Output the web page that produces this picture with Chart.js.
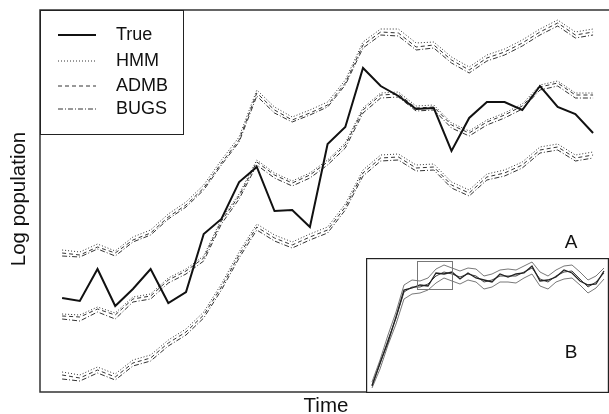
<!DOCTYPE html>
<html>
<head>
<meta charset="utf-8">
<script src="https://cdn.jsdelivr.net/npm/chart.js@4.4.0/dist/chart.umd.min.js"></script>
<style>
  body { margin: 0; background: #fff; overflow: hidden; }
  #main { position: absolute; left: 0; top: 0; }
  #inset { position: absolute; left: 366px; top: 258px; background: #fff; }
</style>
</head>
<body>
<canvas id="main" width="609" height="414"></canvas>
<canvas id="inset" width="243" height="135"></canvas>
<script>
// ---- panel A data (time steps 0..30) ----
const timeSteps = [0, 1, 2, 3, 4, 5, 6, 7, 8, 9, 10, 11, 12, 13, 14, 15, 16, 17, 18, 19, 20, 21, 22, 23, 24, 25, 26, 27, 28, 29, 30];

const trueLogPop = [9.4, 9.1, 12.3, 8.6, 10.3, 12.3, 8.9, 10.0, 15.8, 17.3, 21.0, 22.5, 18.1, 18.2, 16.5, 24.8, 26.5, 32.4, 30.6, 29.6, 28.3, 28.4, 24.1, 27.4, 29.0, 29.0, 28.2, 30.6, 28.5, 27.8, 25.9];

const hmmMid = [7.8, 7.7, 8.5, 7.9, 9.5, 9.8, 11.4, 12.3, 13.6, 17.3, 19.8, 23.2, 21.9, 21.1, 21.9, 23.2, 24.9, 28.4, 29.9, 30.0, 28.6, 28.7, 26.9, 26.1, 27.2, 27.9, 28.8, 30.7, 31.1, 29.9, 29.9];
const hmmUpper = [14.2, 14.0, 14.8, 14.1, 15.5, 16.2, 17.8, 19.0, 20.7, 23.2, 25.5, 30.2, 28.5, 27.5, 28.2, 29.0, 31.2, 35.0, 36.3, 36.3, 34.9, 35.0, 33.5, 32.5, 33.7, 34.3, 35.2, 36.3, 37.2, 36.0, 36.3];
const hmmLower = [2.0, 1.7, 2.5, 1.8, 3.2, 3.7, 5.2, 6.3, 8.0, 10.8, 14.0, 16.8, 15.7, 15.0, 15.8, 16.5, 18.8, 22.2, 23.7, 23.8, 22.7, 22.8, 21.0, 20.2, 21.8, 22.2, 23.0, 24.5, 24.8, 23.7, 24.0];

const admbMid = [7.6, 7.5, 8.3, 7.7, 9.3, 9.6, 11.2, 12.1, 13.4, 17.1, 19.6, 23.0, 21.7, 20.9, 21.7, 23.0, 24.7, 28.2, 29.7, 29.8, 28.4, 28.5, 26.7, 25.9, 27.0, 27.7, 28.6, 30.5, 30.9, 29.7, 29.7];
const admbUpper = [13.9, 13.7, 14.5, 13.9, 15.2, 15.9, 17.5, 18.7, 20.4, 22.9, 25.2, 29.9, 28.2, 27.2, 27.9, 28.7, 30.9, 34.7, 36.0, 35.9, 34.5, 34.7, 33.2, 32.2, 33.4, 34.0, 34.9, 36.0, 36.9, 35.7, 36.0];
const admbLower = [1.7, 1.4, 2.2, 1.5, 2.9, 3.4, 4.9, 6.0, 7.7, 10.5, 13.7, 16.5, 15.4, 14.7, 15.5, 16.2, 18.5, 21.9, 23.4, 23.5, 22.4, 22.5, 20.7, 19.9, 21.5, 21.9, 22.7, 24.2, 24.5, 23.4, 23.7];

const bugsMid = [7.3, 7.1, 8.0, 7.3, 9.0, 9.3, 10.9, 11.8, 13.1, 16.8, 19.3, 22.7, 21.4, 20.6, 21.4, 22.7, 24.4, 27.9, 29.4, 29.5, 28.1, 28.2, 26.4, 25.6, 26.7, 27.4, 28.3, 30.2, 30.6, 29.4, 29.4];
const bugsUpper = [13.6, 13.5, 14.3, 13.6, 15.0, 15.7, 17.3, 18.5, 20.2, 22.7, 25.0, 29.6, 27.9, 27.0, 27.7, 28.5, 30.7, 34.4, 35.7, 35.6, 34.2, 34.4, 32.9, 31.9, 33.1, 33.7, 34.6, 35.7, 36.6, 35.4, 35.7];
const bugsLower = [1.3, 1.1, 1.9, 1.2, 2.6, 3.1, 4.6, 5.7, 7.4, 10.2, 13.4, 16.2, 15.1, 14.4, 15.2, 15.9, 18.2, 21.6, 23.1, 23.2, 22.1, 22.2, 20.4, 19.6, 21.2, 21.6, 22.4, 23.9, 24.2, 23.1, 23.4];

const legendLabels = ['True', 'HMM', 'ADMB', 'BUGS'];

// ---- panel B data (whole series, coarser steps) ----
const insetSteps = [0, 1, 2, 3, 4, 5, 6, 7, 8, 9, 10, 11, 12, 13, 14, 15, 16, 17, 18, 19, 20, 21, 22, 23, 24, 25, 26, 27, 28, 29];
const insetTrue = [0.6, 2.9, 5.0, 7.5, 10.2, 10.4, 10.7, 10.6, 11.9, 11.8, 12.0, 11.3, 11.9, 11.4, 11.2, 11.0, 11.8, 11.5, 11.8, 11.9, 12.6, 11.1, 11.2, 11.5, 12.2, 11.9, 11.1, 10.7, 10.8, 12.1];
const insetMid = [0.7, 2.8, 5.2, 7.4, 10.0, 10.5, 10.5, 10.8, 11.6, 12.0, 11.8, 11.5, 11.8, 11.6, 11.0, 11.2, 11.6, 11.6, 11.6, 12.0, 12.4, 11.3, 11.0, 11.6, 12.0, 12.1, 11.3, 10.5, 11.0, 11.9];
const insetUpper = [1.0, 3.2, 5.7, 8.0, 10.7, 11.2, 11.1, 11.4, 12.3, 12.7, 12.4, 12.1, 12.4, 12.3, 11.6, 11.8, 12.2, 12.3, 12.2, 12.6, 13.0, 12.0, 11.6, 12.2, 12.6, 12.7, 12.0, 11.2, 11.6, 12.4];
const insetLower = [0.4, 2.3, 4.7, 6.8, 9.3, 9.8, 9.9, 10.2, 10.9, 11.4, 11.1, 10.8, 11.2, 11.0, 10.3, 10.5, 11.0, 11.0, 10.9, 11.4, 11.8, 10.6, 10.3, 11.0, 11.3, 11.4, 10.7, 9.9, 10.4, 11.3];
// region of panel A shown inside panel B
const zoomBoxX = [5.6, 10.0];
const zoomBoxY = [10.3, 13.1];

const FAMILY = '"Liberation Sans", Arial, sans-serif';
const dashHMM = [1, 2];
const dashADMB = [4, 3];
const dashBUGS = [5, 2, 1, 2];

function toPoints(xs, ys) {
    return ys.map((v, i) => ({ x: xs[i], y: v }));
}

function estLine(values, dash) {
    return {
        data: toPoints(timeSteps, values),
        borderColor: '#333',
        borderWidth: 1,
        borderDash: dash,
        pointRadius: 0,
        fill: false
    };
}

const mainDecor = {
    id: 'mainDecor',
    afterDraw(chart) {
        const ctx = chart.ctx;
        const a = chart.chartArea;
        ctx.save();
        // frame: top, left, bottom
        ctx.strokeStyle = '#333';
        ctx.lineWidth = 1.5;
        ctx.beginPath();
        ctx.moveTo(a.right, a.top);
        ctx.lineTo(a.left, a.top);
        ctx.lineTo(a.left, a.bottom);
        ctx.lineTo(a.right, a.bottom);
        ctx.stroke();

        // legend box
        ctx.fillStyle = '#fff';
        ctx.fillRect(a.left, a.top, 143, 124);
        ctx.lineWidth = 1;
        ctx.strokeStyle = '#222';
        ctx.strokeRect(a.left + 0.5, a.top + 0.5, 143, 124);

        const rows = [35, 61, 86, 109];
        const dashes = [[], dashHMM, dashADMB, dashBUGS];
        ctx.font = '18px ' + FAMILY;
        ctx.textBaseline = 'middle';
        ctx.fillStyle = '#111';
        legendLabels.forEach((lab, i) => {
            ctx.beginPath();
            ctx.setLineDash(dashes[i]);
            ctx.lineWidth = i === 0 ? 2 : 1;
            ctx.strokeStyle = i === 0 ? '#111' : '#333';
            ctx.moveTo(58, rows[i]);
            ctx.lineTo(96, rows[i]);
            ctx.stroke();
            ctx.fillText(lab, 116, rows[i]);
        });
        ctx.setLineDash([]);

        // axis titles and panel label
        ctx.textAlign = 'center';
        ctx.font = '19px ' + FAMILY;
        ctx.fillText('A', 571, 243);
        ctx.font = '20.5px ' + FAMILY;
        ctx.fillText('Time', 326, 406);
        ctx.translate(19, 199);
        ctx.rotate(-Math.PI / 2);
        ctx.fillText('Log population', 0, 0);
        ctx.restore();
    }
};

new Chart(document.getElementById('main'), {
    type: 'line',
    data: {
        datasets: [
            {
                data: toPoints(timeSteps, trueLogPop),
                borderColor: '#111',
                borderWidth: 2,
                pointRadius: 0,
                fill: false
            },
            estLine(hmmMid, dashHMM),
            estLine(hmmUpper, dashHMM),
            estLine(hmmLower, dashHMM),
            estLine(admbMid, dashADMB),
            estLine(admbUpper, dashADMB),
            estLine(admbLower, dashADMB),
            estLine(bugsMid, dashBUGS),
            estLine(bugsUpper, dashBUGS),
            estLine(bugsLower, dashBUGS)
        ]
    },
    options: {
        responsive: false,
        animation: false,
        layout: { padding: { left: 40, top: 10, right: 0, bottom: 22 } },
        scales: {
            x: { type: 'linear', min: -1.25, max: 30.9, display: false },
            y: { min: 0, max: 38.2, display: false }
        },
        plugins: {
            legend: { display: false },
            tooltip: { enabled: false }
        }
    },
    plugins: [mainDecor]
});

function insetLine(values, width, color) {
    return {
        data: toPoints(insetSteps, values),
        borderColor: color,
        borderWidth: width,
        pointRadius: 0,
        fill: false
    };
}

const insetDecor = {
    id: 'insetDecor',
    afterDraw(chart) {
        const ctx = chart.ctx;
        const xs = chart.scales.x;
        const ys = chart.scales.y;
        ctx.save();
        // zoom box
        ctx.strokeStyle = '#777';
        ctx.lineWidth = 1;
        const x0 = xs.getPixelForValue(zoomBoxX[0]);
        const x1 = xs.getPixelForValue(zoomBoxX[1]);
        const y0 = ys.getPixelForValue(zoomBoxY[1]);
        const y1 = ys.getPixelForValue(zoomBoxY[0]);
        ctx.strokeRect(Math.round(x0) + 0.5, Math.round(y0) + 0.5, Math.round(x1 - x0), Math.round(y1 - y0));
        // frame
        ctx.strokeStyle = '#222';
        ctx.lineWidth = 1.2;
        ctx.strokeRect(0.6, 0.6, chart.width - 1.2, chart.height - 1.2);
        ctx.font = '19px ' + FAMILY;
        ctx.fillStyle = '#111';
        ctx.textAlign = 'center';
        ctx.textBaseline = 'middle';
        ctx.fillText('B', 205, 95);
        ctx.restore();
    }
};

new Chart(document.getElementById('inset'), {
    type: 'line',
    data: {
        datasets: [
            insetLine(insetTrue, 1.3, '#222'),
            insetLine(insetMid, 1, '#444'),
            insetLine(insetUpper, 0.8, '#555'),
            insetLine(insetLower, 0.8, '#555')
        ]
    },
    options: {
        responsive: false,
        animation: false,
        layout: { padding: 0 },
        scales: {
            x: { type: 'linear', min: -0.75, max: 29.625, display: false },
            y: { min: -0.1, max: 13.4, display: false }
        },
        plugins: {
            legend: { display: false },
            tooltip: { enabled: false }
        }
    },
    plugins: [insetDecor]
});
</script>
</body>
</html>
